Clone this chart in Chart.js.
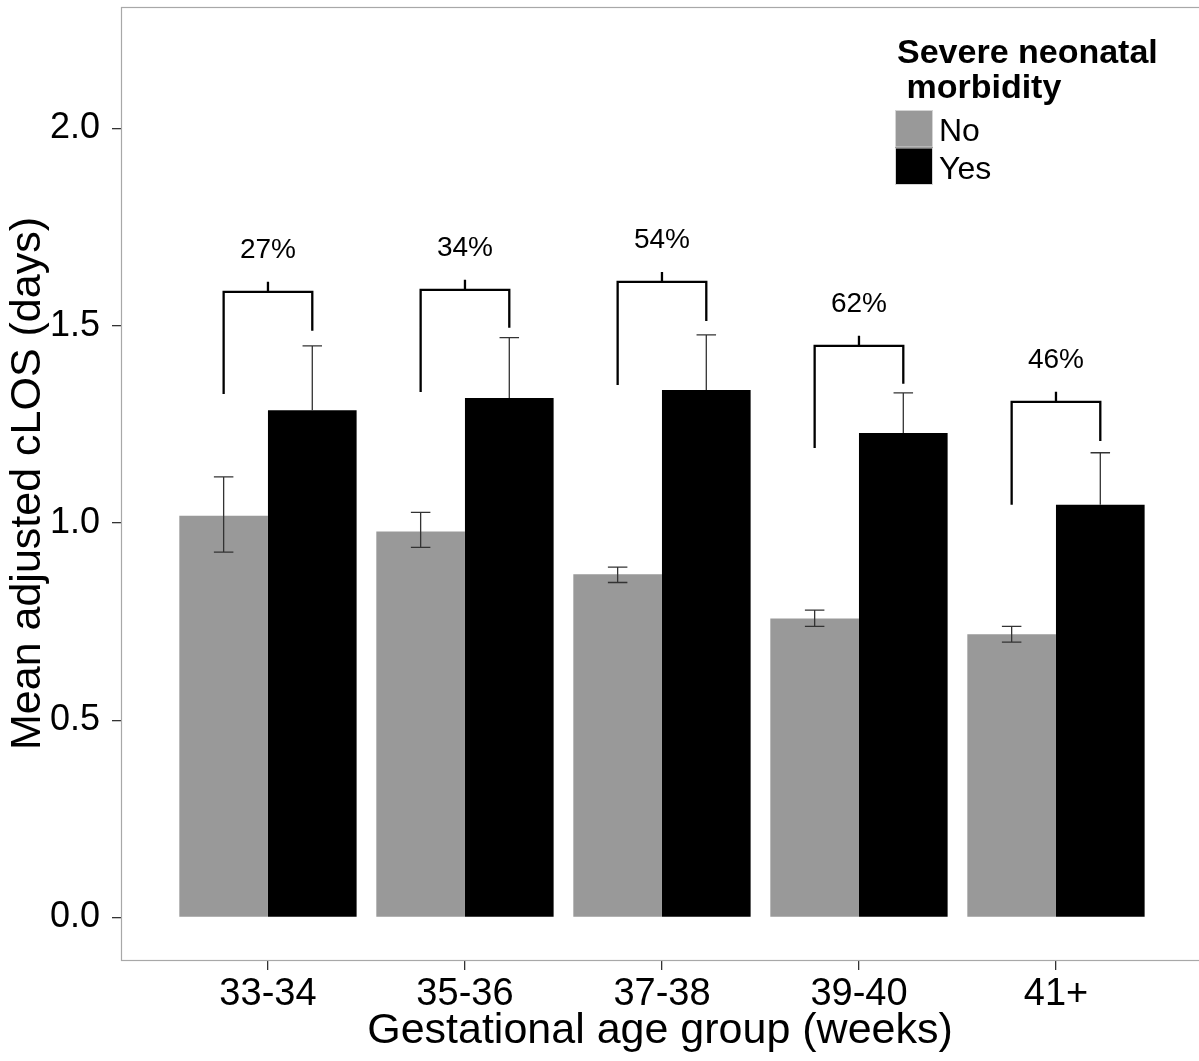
<!DOCTYPE html>
<html>
<head>
<meta charset="utf-8">
<script src="https://cdn.jsdelivr.net/npm/chart.js@4.4.0/dist/chart.umd.min.js"></script>
<style>
  html, body { margin: 0; padding: 0; background: #fff; overflow: hidden; }
  #wrap { width: 1199px; height: 1061px; }
</style>
</head>
<body>
<div id="wrap"><canvas id="myChart" width="1199" height="1061"></canvas></div>
<script>
const categories = ["33-34", "35-36", "37-38", "39-40", "41+"];
const noValues = [1.018, 0.978, 0.870, 0.758, 0.718];
const noLow = [0.926, 0.938, 0.849, 0.738, 0.698];
const noHigh = [1.117, 1.027, 0.888, 0.779, 0.738];
const yesValues = [1.286, 1.317, 1.337, 1.228, 1.046];
const yesHigh = [1.449, 1.470, 1.477, 1.330, 1.178];
const pctLabels = ["27%", "34%", "54%", "62%", "46%"];
const bracketTop = [1.586, 1.591, 1.611, 1.449, 1.307];
const bracketLeftEnd = [1.327, 1.332, 1.350, 1.190, 1.046];
const bracketRightEnd = [1.487, 1.495, 1.512, 1.353, 1.208];
const yTicks = [0, 0.5, 1.0, 1.5, 2.0];
const seriesNames = ["No", "Yes"];
const legendTitle = ["Severe neonatal", " morbidity"];

const FONT = "'Liberation Sans', Arial, sans-serif";
Chart.defaults.font.family = FONT;
Chart.defaults.color = "#000";

// error bars, brackets, panel frame and the legend
const extras = {
    id: "extras",
    afterDatasetsDraw(chart) {
        const ctx = chart.ctx;
        const y = chart.scales.y;
        const noMeta = chart.getDatasetMeta(0);
        const yesMeta = chart.getDatasetMeta(1);
        ctx.save();
        ctx.strokeStyle = "#333";
        ctx.lineWidth = 1.3;
        noMeta.data.forEach((bar, i) => {
            const half = bar.width * 0.11;
            const lo = y.getPixelForValue(noLow[i]);
            const hi = y.getPixelForValue(noHigh[i]);
            ctx.beginPath();
            ctx.moveTo(bar.x, lo); ctx.lineTo(bar.x, hi);
            ctx.moveTo(bar.x - half, lo); ctx.lineTo(bar.x + half, lo);
            ctx.moveTo(bar.x - half, hi); ctx.lineTo(bar.x + half, hi);
            ctx.stroke();
        });
        yesMeta.data.forEach((bar, i) => {
            const half = bar.width * 0.11;
            const hi = y.getPixelForValue(yesHigh[i]);
            ctx.beginPath();
            ctx.moveTo(bar.x, bar.y); ctx.lineTo(bar.x, hi);
            ctx.moveTo(bar.x - half, hi); ctx.lineTo(bar.x + half, hi);
            ctx.stroke();
        });

        // brackets with percentage labels
        ctx.strokeStyle = "#000";
        ctx.lineWidth = 2.3;
        ctx.fillStyle = "#000";
        ctx.font = "28px " + FONT;
        ctx.textAlign = "center";
        ctx.textBaseline = "middle";
        for (let i = 0; i < categories.length; i++) {
            const lx = noMeta.data[i].x;
            const rx = yesMeta.data[i].x;
            const cx = (lx + rx) / 2;
            const top = y.getPixelForValue(bracketTop[i]);
            ctx.beginPath();
            ctx.moveTo(lx, y.getPixelForValue(bracketLeftEnd[i]));
            ctx.lineTo(lx, top);
            ctx.lineTo(rx, top);
            ctx.lineTo(rx, y.getPixelForValue(bracketRightEnd[i]));
            ctx.moveTo(cx, top);
            ctx.lineTo(cx, top - 10);
            ctx.stroke();
            ctx.fillText(pctLabels[i], cx, top - 42);
        }
        ctx.restore();
    },
    afterDraw(chart) {
        const ctx = chart.ctx;
        const a = chart.chartArea;
        ctx.save();
        ctx.strokeStyle = "#a8a8a8";
        ctx.lineWidth = 1.2;
        ctx.strokeRect(Math.round(a.left) + 0.5, Math.round(a.top) + 0.5,
            a.right - a.left + 20, Math.round(a.bottom - a.top));

        // legend
        ctx.fillStyle = "#000";
        ctx.textAlign = "left";
        ctx.textBaseline = "alphabetic";
        ctx.font = "bold 34px " + FONT;
        ctx.fillText(legendTitle[0], 897, 63);
        ctx.fillText(legendTitle[1], 897, 98);
        const keyColors = chart.data.datasets.map(d => d.backgroundColor);
        ctx.font = "32px " + FONT;
        seriesNames.forEach((name, i) => {
            const top = 110 + i * 37.5;
            ctx.fillStyle = keyColors[i];
            ctx.fillRect(895, top, 38, 37.5);
            ctx.strokeStyle = "#d4d4d4";
            ctx.lineWidth = 1;
            ctx.strokeRect(895.5, top + 0.5, 37, 36.5);
            ctx.fillStyle = "#000";
            ctx.fillText(name, 939, top + 31);
        });
        ctx.restore();
    }
};

const graph = document.getElementById("myChart").getContext("2d");
const myChart = new Chart(graph, {
    type: "bar",
    data: {
        datasets: [
            {
                label: seriesNames[0],
                data: noValues.map((v, i) => ({ x: i + 1, y: v })),
                backgroundColor: "#999999",
                borderWidth: 0,
                categoryPercentage: 0.9,
                barPercentage: 1.0,
            },
            {
                label: seriesNames[1],
                data: yesValues.map((v, i) => ({ x: i + 1, y: v })),
                backgroundColor: "#000000",
                borderWidth: 0,
                categoryPercentage: 0.9,
                barPercentage: 1.0,
            },
        ],
    },
    options: {
        responsive: false,
        animation: false,
        devicePixelRatio: 1,
        layout: { padding: { top: 7, left: 0, right: 0, bottom: 0 } },
        plugins: {
            legend: { display: false },
            tooltip: { enabled: false },
        },
        scales: {
            x: {
                type: "linear",
                min: 0.254,
                max: 5.726,
                offset: false,
                afterBuildTicks: (axis) => { axis.ticks = categories.map((c, i) => ({ value: i + 1 })); },
                afterFit: (scale) => {
                    scale.height = 101;
                    scale.paddingLeft = 0;
                    scale.paddingRight = 0;
                },
                grid: { offset: false, drawOnChartArea: false, drawTicks: true, tickLength: 10, tickColor: "#333", lineWidth: 1.3 },
                border: { display: false },
                ticks: {
                    callback: (v) => categories[Math.round(v) - 1],
                    font: { size: 38, lineHeight: 1.2 },
                    color: "#000",
                    padding: 2,
                    maxRotation: 0,
                    autoSkip: false,
                },
                title: {
                    display: true,
                    text: "Gestational age group (weeks)",
                    font: { size: 43, lineHeight: 1 },
                    color: "#000",
                    padding: { top: 0, bottom: 8.5 },
                },
            },
            y: {
                min: -0.108,
                max: 2.308,
                afterBuildTicks: (axis) => { axis.ticks = yTicks.map(v => ({ value: v })); },
                afterFit: (scale) => {
                    scale.width = 121;
                    scale.paddingTop = 0;
                    scale.paddingBottom = 0;
                },
                grid: { drawOnChartArea: false, drawTicks: true, tickLength: 9, tickColor: "#333", lineWidth: 1.3 },
                border: { display: false },
                ticks: {
                    callback: (v) => v.toFixed(1),
                    font: { size: 36 },
                    color: "#000",
                    padding: 12,
                },
                title: {
                    display: true,
                    text: "Mean adjusted cLOS (days)",
                    font: { size: 43, lineHeight: 1 },
                    color: "#000",
                    padding: { top: 6.5, bottom: 0 },
                },
            },
        },
    },
    plugins: [extras],
});
</script>
</body>
</html>
